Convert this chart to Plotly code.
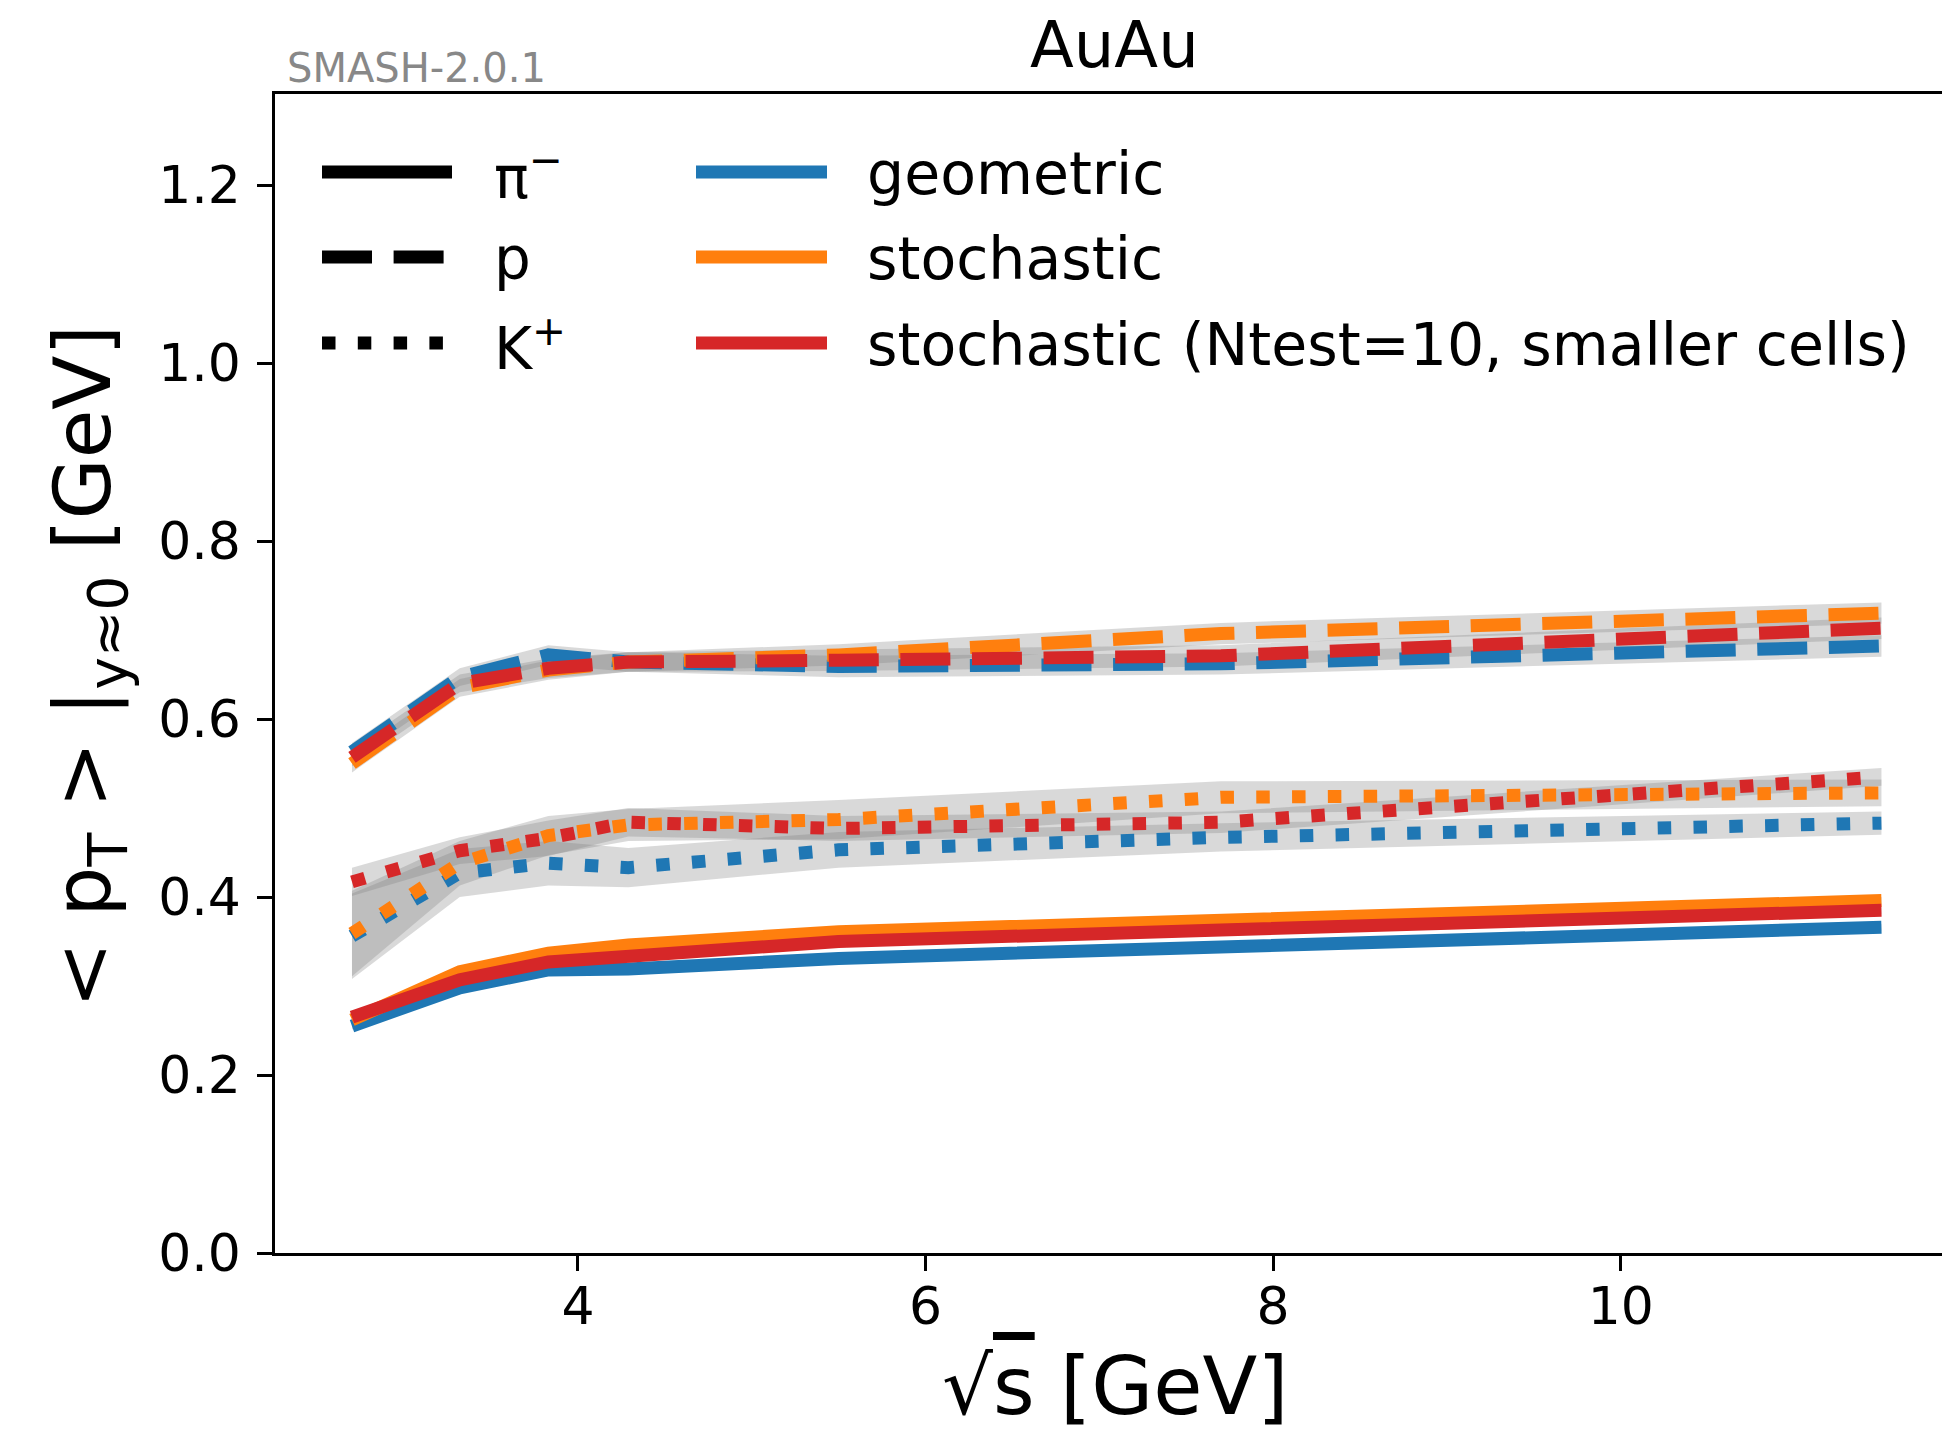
import plotly.graph_objects as go

# ---------------- data ----------------
sqrt_s = [2.7, 3.32, 3.83, 4.29, 5.5, 7.7, 11.5]

pi_geo = [0.255, 0.298, 0.318, 0.319, 0.331, 0.345, 0.366]
pi_sto = [0.262, 0.316, 0.337, 0.346, 0.361, 0.375, 0.396]
pi_nt = [0.265, 0.307, 0.327, 0.333, 0.350, 0.363, 0.385]
pi_err = [0.004, 0.004, 0.004, 0.004, 0.004, 0.004, 0.004]

p_geo = [0.563, 0.647, 0.672, 0.664, 0.659, 0.662, 0.682]
p_sto = [0.550, 0.635, 0.655, 0.664, 0.672, 0.696, 0.719]
p_nt = [0.557, 0.640, 0.657, 0.664, 0.666, 0.671, 0.702]
p_err = [0.010, 0.010, 0.011, 0.011, 0.012, 0.012, 0.012]

k_geo = [0.356, 0.427, 0.438, 0.433, 0.453, 0.467, 0.483]
k_sto = [0.359, 0.438, 0.469, 0.481, 0.487, 0.512, 0.517]
k_nt = [0.417, 0.452, 0.466, 0.484, 0.477, 0.484, 0.535]
k_geo_err = [0.048, 0.027, 0.025, 0.022, 0.020, 0.016, 0.013]
k_sto_err = [0.048, 0.025, 0.022, 0.018, 0.022, 0.018, 0.015]
k_nt_err = [0.016, 0.015, 0.020, 0.016, 0.014, 0.012, 0.010]

x_ticks = [4, 6, 8, 10]
y_ticks = [0.0, 0.2, 0.4, 0.6, 0.8, 1.0, 1.2]

models = ["geometric", "stochastic", "stochastic (Ntest=10, smaller cells)"]
colors = ["#1f77b4", "#ff7f0e", "#d62728"]
particles = ["π<sup>−</sup>", "p", "K<sup>+</sup>"]

series = {
    "pi": [(pi_geo, pi_err), (pi_sto, pi_err), (pi_nt, pi_err)],
    "p": [(p_geo, p_err), (p_sto, p_err), (p_nt, p_err)],
    "k": [(k_geo, k_geo_err), (k_sto, k_sto_err), (k_nt, k_nt_err)],
}

# ---------------- layout geometry ----------------
W, H = 1942, 1438
L, R, T, B = 275, 0, 94, 185
PW = W - L - R
PH = H - T - B
FONT = "DejaVu Sans"

LW = 13
dash_styles = {"pi": "solid", "p": "50px,21.6px", "k": "13.5px,22.3px"}


def px(x):
    return (x - L) / PW


def py(y):
    return (H - B - y) / PH


fig = go.Figure()

# grey uncertainty bands first
for key in ["pi", "p", "k"]:
    for vals, err in series[key]:
        upper = [v + e for v, e in zip(vals, err)]
        lower = [v - e for v, e in zip(vals, err)]
        fig.add_trace(go.Scatter(
            x=sqrt_s + sqrt_s[::-1],
            y=upper + lower[::-1],
            fill="toself",
            fillcolor="rgba(128,128,128,0.3)",
            line=dict(width=0),
            mode="lines",
            hoverinfo="skip",
            showlegend=False,
        ))

# lines: geometric, stochastic, stochastic Ntest (drawn in that order)
for mi in range(3):
    for key in ["pi", "p", "k"]:
        vals, _ = series[key][mi]
        fig.add_trace(go.Scatter(
            x=sqrt_s, y=vals, mode="lines",
            line=dict(color=colors[mi], width=LW, dash=dash_styles[key]),
            showlegend=False,
        ))

# ---------------- manual legend ----------------
rows_y = [172, 257, 343]
shapes = []
annotations = []
for i, key in enumerate(["pi", "p", "k"]):
    shapes.append(dict(type="line", xref="paper", yref="paper",
                       x0=px(322), x1=px(452), y0=py(rows_y[i]), y1=py(rows_y[i]),
                       line=dict(color="black", width=LW, dash=dash_styles[key])))
    annotations.append(dict(text=particles[i], xref="paper", yref="paper",
                            x=px(492), y=py(rows_y[i] + 2), xanchor="left", yanchor="middle",
                            showarrow=False, font=dict(family=FONT, size=58, color="black")))
for i in range(3):
    shapes.append(dict(type="line", xref="paper", yref="paper",
                       x0=px(696), x1=px(827), y0=py(rows_y[i]), y1=py(rows_y[i]),
                       line=dict(color=colors[i], width=LW)))
    annotations.append(dict(text=models[i], xref="paper", yref="paper",
                            x=px(865), y=py(rows_y[i] + 2), xanchor="left", yanchor="middle",
                            showarrow=False, font=dict(family=FONT, size=58.5, color="black")))

# title and SMASH label
annotations.append(dict(text="AuAu", xref="paper", yref="paper", x=px(1114), y=py(45),
                        xanchor="center", yanchor="middle", showarrow=False,
                        font=dict(family=FONT, size=64, color="black")))
annotations.append(dict(text="SMASH-2.0.1", xref="paper", yref="paper", x=px(285), y=py(68),
                        xanchor="left", yanchor="middle", showarrow=False,
                        font=dict(family=FONT, size=40, color="#888888")))
# axis titles
annotations.append(dict(text="√<span style='text-decoration:overline'>s</span> [GeV]",
                        xref="paper", yref="paper", x=px(1115), y=py(1386),
                        xanchor="center", yanchor="middle", showarrow=False,
                        font=dict(family=FONT, size=80, color="black")))
annotations.append(dict(text="&lt; p<sub>T</sub> &gt; |<sub>y≈0</sub> [GeV]",
                        xref="paper", yref="paper", x=px(88), y=py(667),
                        xanchor="center", yanchor="middle", textangle=-90, showarrow=False,
                        font=dict(family=FONT, size=79, color="black")))

x_range = [2.257, 2.257 + PW / 173.8]
y_range = [0.0, PH / 890.0]

fig.update_layout(
    width=W, height=H,
    margin=dict(l=L, r=R, t=T, b=B, pad=0),
    paper_bgcolor="white", plot_bgcolor="white",
    showlegend=False,
    shapes=shapes,
    annotations=annotations,
    font=dict(family=FONT, color="black"),
    xaxis=dict(range=x_range, tickvals=x_ticks, ticktext=[str(t) for t in x_ticks],
               showgrid=False, zeroline=False, showline=True, linecolor="black", linewidth=2.5,
               mirror=True, ticks="outside", ticklen=15, tickwidth=2.5, tickcolor="black",
               tickfont=dict(family=FONT, size=52, color="black"), ticklabelstandoff=-9),
    yaxis=dict(range=y_range, tickvals=y_ticks, ticktext=[f"{t:.1f}" for t in y_ticks],
               showgrid=False, zeroline=False, showline=True, linecolor="black", linewidth=2.5,
               mirror=False, ticks="outside", ticklen=15, tickwidth=2.5, tickcolor="black",
               tickfont=dict(family=FONT, size=52, color="black"), ticklabelstandoff=6),
)

fig.write_html("out.html")
